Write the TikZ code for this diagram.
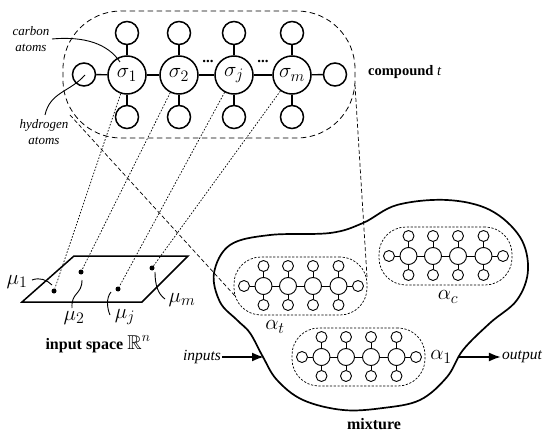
\documentclass[tikz,border=0pt]{standalone}
\usepackage{fix-cm}
\usepackage{amssymb}
\usepackage[no-math]{fontspec}
\usetikzlibrary{arrows.meta}
\setmainfont{Liberation Serif}
\DeclareMathSizes{21}{21}{16}{12}
\DeclareMathSizes{16}{20}{14}{10}
\begin{document}
\begin{tikzpicture}[x=1pt, y=-1pt,
        carbon/.style={draw, circle, line width=1.5pt, minimum size=38pt, inner sep=0pt},
        hydrogen/.style={draw, circle, line width=1.5pt, minimum size=23pt, inner sep=0pt},
        carbonsm/.style={draw, circle, line width=0.9pt, minimum size=17pt, inner sep=0pt},
        hydrogensm/.style={draw, circle, line width=0.9pt, minimum size=11pt, inner sep=0pt},
        bond/.style={line width=1.4pt},
        bondsm/.style={line width=0.9pt},
        hull/.style={draw, dash pattern=on 5.5pt off 3.5pt, line width=0.8pt},
        hullsm/.style={draw, dash pattern=on 2.2pt off 1.6pt, line width=0.7pt},
        atomdot/.style={fill, circle, minimum size=5pt, inner sep=0pt},
        mapline/.style={dash pattern=on 1.6pt off 1.6pt, line width=0.7pt},
        lead/.style={line width=0.9pt},
        caption/.style={font=\fontsize{16}{18}\selectfont\bfseries, inner sep=0pt},
        note/.style={font=\fontsize{13}{16}\selectfont\itshape, inner sep=1pt, align=center},
        symb/.style={font=\fontsize{21}{24}\selectfont, inner sep=0pt},
        flow/.style={-{Latex[length=12pt,width=9pt]}, line width=2pt}]
    \useasboundingbox (0,0) rectangle (550,436);
    % Compound t: one large molecule inside its dashed hull
    \node[hull, minimum width=292pt, minimum height=127pt, rounded corners=58pt, inner sep=0pt] (hullt) at (209,74.5) {};
    \foreach \i/\cx/\lab in {1/127/\sigma_1, 2/179/\sigma_2, 3/234/\sigma_j, 4/292/\sigma_m} {
        \node[carbon, symb] (s\i) at (\cx,75) {$\lab$};
        \node[hydrogen] (up\i) at (\cx,33) {};
        \node[hydrogen] (dn\i) at (\cx,117) {};
        \draw[bond] (s\i) -- (up\i);
        \draw[bond] (s\i) -- (dn\i);
    }
    \node[hydrogen] (hl) at (84,74.5) {};
    \node[hydrogen] (hr) at (335,74.5) {};
    \draw[bond] (hl) -- (s1);
    \draw[bond] (s1) -- (s2);
    \draw[bond] (s2) -- (s3);
    \draw[bond] (s3) -- (s4);
    \draw[bond] (s4) -- (hr);
    \node[font=\fontsize{15}{14}\selectfont\bfseries, inner sep=0pt] (gap1) at (208,61) {...};
    \node[font=\fontsize{15}{14}\selectfont\bfseries, inner sep=0pt] (gap2) at (263,61) {...};
    \node[note] (carbonlab) at (31,39) {carbon\\atoms};
    \node[note] (hydrolab) at (44,132) {hydrogen\\atoms};
    \coordinate (carbonfrom) at (52,39);
    \coordinate (carbonto) at (120,62);
    \coordinate (hydrofrom) at (45,115);
    \coordinate (hydroto) at (85,75);
    \draw[lead] (carbonfrom) .. controls (85,36) and (108,44) .. (carbonto);
    \draw[lead] (hydrofrom) .. controls (50,92) and (70,92) .. (hydroto);
    \node[caption, font=\fontsize{14.5}{16}\selectfont\bfseries, anchor=west] (comptlab) at (368,72) {compound \textit{\mdseries t}};
    % Input space: parallelogram with one point per carbon atom
    \coordinate (pa) at (22,302);
    \coordinate (pb) at (142,302);
    \coordinate (pc) at (188,256);
    \coordinate (pd) at (74,256);
    \draw[line width=1.5pt] (pa) -- (pb) -- (pc) -- (pd) -- cycle;
    \node[atomdot] (m1) at (54,291) {};
    \node[atomdot] (m2) at (81,272) {};
    \node[atomdot] (m3) at (118,289) {};
    \node[atomdot] (m4) at (152,268) {};
    \foreach \i in {1,...,4} {
        \draw[mapline] (s\i) -- (m\i);
    }
    \node[symb] (mu1) at (17,282) {$\mu_1$};
    \node[symb] (mu2) at (74,318) {$\mu_2$};
    \node[symb] (muj) at (125,317) {$\mu_j$};
    \node[symb] (mum) at (182,300) {$\mu_m$};
    \coordinate (lead1) at (32,280);
    \coordinate (lead1b) at (52,285);
    \coordinate (lead2) at (82,280);
    \coordinate (lead2b) at (72,308);
    \coordinate (lead3) at (111,292);
    \coordinate (lead3b) at (110,315);
    \coordinate (lead4) at (155,272);
    \coordinate (lead4b) at (165,299);
    \draw[lead] (lead1) .. controls (40,277) and (47,280) .. (lead1b);
    \draw[lead] (lead2) .. controls (82,295) and (71,292) .. (lead2b);
    \draw[lead] (lead3) .. controls (106,298) and (107,308) .. (lead3b);
    \draw[lead] (lead4) .. controls (155,285) and (158,294) .. (lead4b);
    \node[caption] (spacelab) at (98,344) {input space $\mathbb{R}^n$};
    % Mixture: outer boundary and three small molecules
    \draw[line width=1.7pt] plot[smooth cycle, tension=0.6] coordinates {
        (214,273) (230,245) (270,235) (330,233) (363,223) (397,205) (447,200)
        (490,210) (520,237) (528,270) (517,300) (490,323) (463,350) (447,377)
        (420,400) (383,408) (343,410) (303,400) (277,380) (263,357) (250,333)
        (237,320) (220,302)};
    \foreach \name/\dx/\dy in {t/0/0, c/145/-30, a/58/71} {
        \begin{scope}[shift={(\dx,\dy)}]
            \node[hullsm, minimum width=133pt, minimum height=58pt, rounded corners=27pt, inner sep=0pt] (hull\name) at (300.5,286) {};
            \foreach \i/\cx in {1/263.5, 2/288, 3/313, 4/338.5} {
                \node[carbonsm] (\name-c\i) at (\cx,286) {};
                \node[hydrogensm] (\name-u\i) at (\cx,266) {};
                \node[hydrogensm] (\name-d\i) at (\cx,305) {};
                \draw[bondsm] (\name-c\i) -- (\name-u\i);
                \draw[bondsm] (\name-c\i) -- (\name-d\i);
            }
            \node[hydrogensm] (\name-l) at (244,286) {};
            \node[hydrogensm] (\name-r) at (358,286) {};
            \draw[bondsm] (\name-l) -- (\name-c1);
            \draw[bondsm] (\name-c1) -- (\name-c2);
            \draw[bondsm] (\name-c2) -- (\name-c3);
            \draw[bondsm] (\name-c3) -- (\name-c4);
            \draw[bondsm] (\name-c4) -- (\name-r);
        \end{scope}
    }
    \node[symb] (alphat) at (275,327) {$\alpha_t$};
    \node[symb] (alphac) at (448,297) {$\alpha_c$};
    \node[symb] (alphaa) at (441,357) {$\alpha_1$};
    % Zoom lines from compound t down to its copy in the mixture
    \coordinate (zoomla) at (70,115);
    \coordinate (zoomlb) at (236,297);
    \coordinate (zoomra) at (355,85);
    \coordinate (zoomrb) at (367,277);
    \draw[hull, dash pattern=on 4pt off 2.5pt, line width=0.7pt] (zoomla) -- (zoomlb);
    \draw[hull, dash pattern=on 4pt off 2.5pt, line width=0.7pt] (zoomra) -- (zoomrb);
    % Flow through the mixture
    \node[note, font=\fontsize{15.5}{18}\selectfont\itshape] (inputs) at (202,357) {inputs};
    \node[note, font=\fontsize{15.5}{18}\selectfont\itshape] (output) at (522,357) {output};
    \coordinate (mixin) at (264,357);
    \coordinate (mixout) at (459,357);
    \draw[flow] (inputs) -- (mixin);
    \draw[flow] (mixout) -- (output);
    \node[caption] (mixlab) at (374,424) {mixture};
\end{tikzpicture}
\end{document}
